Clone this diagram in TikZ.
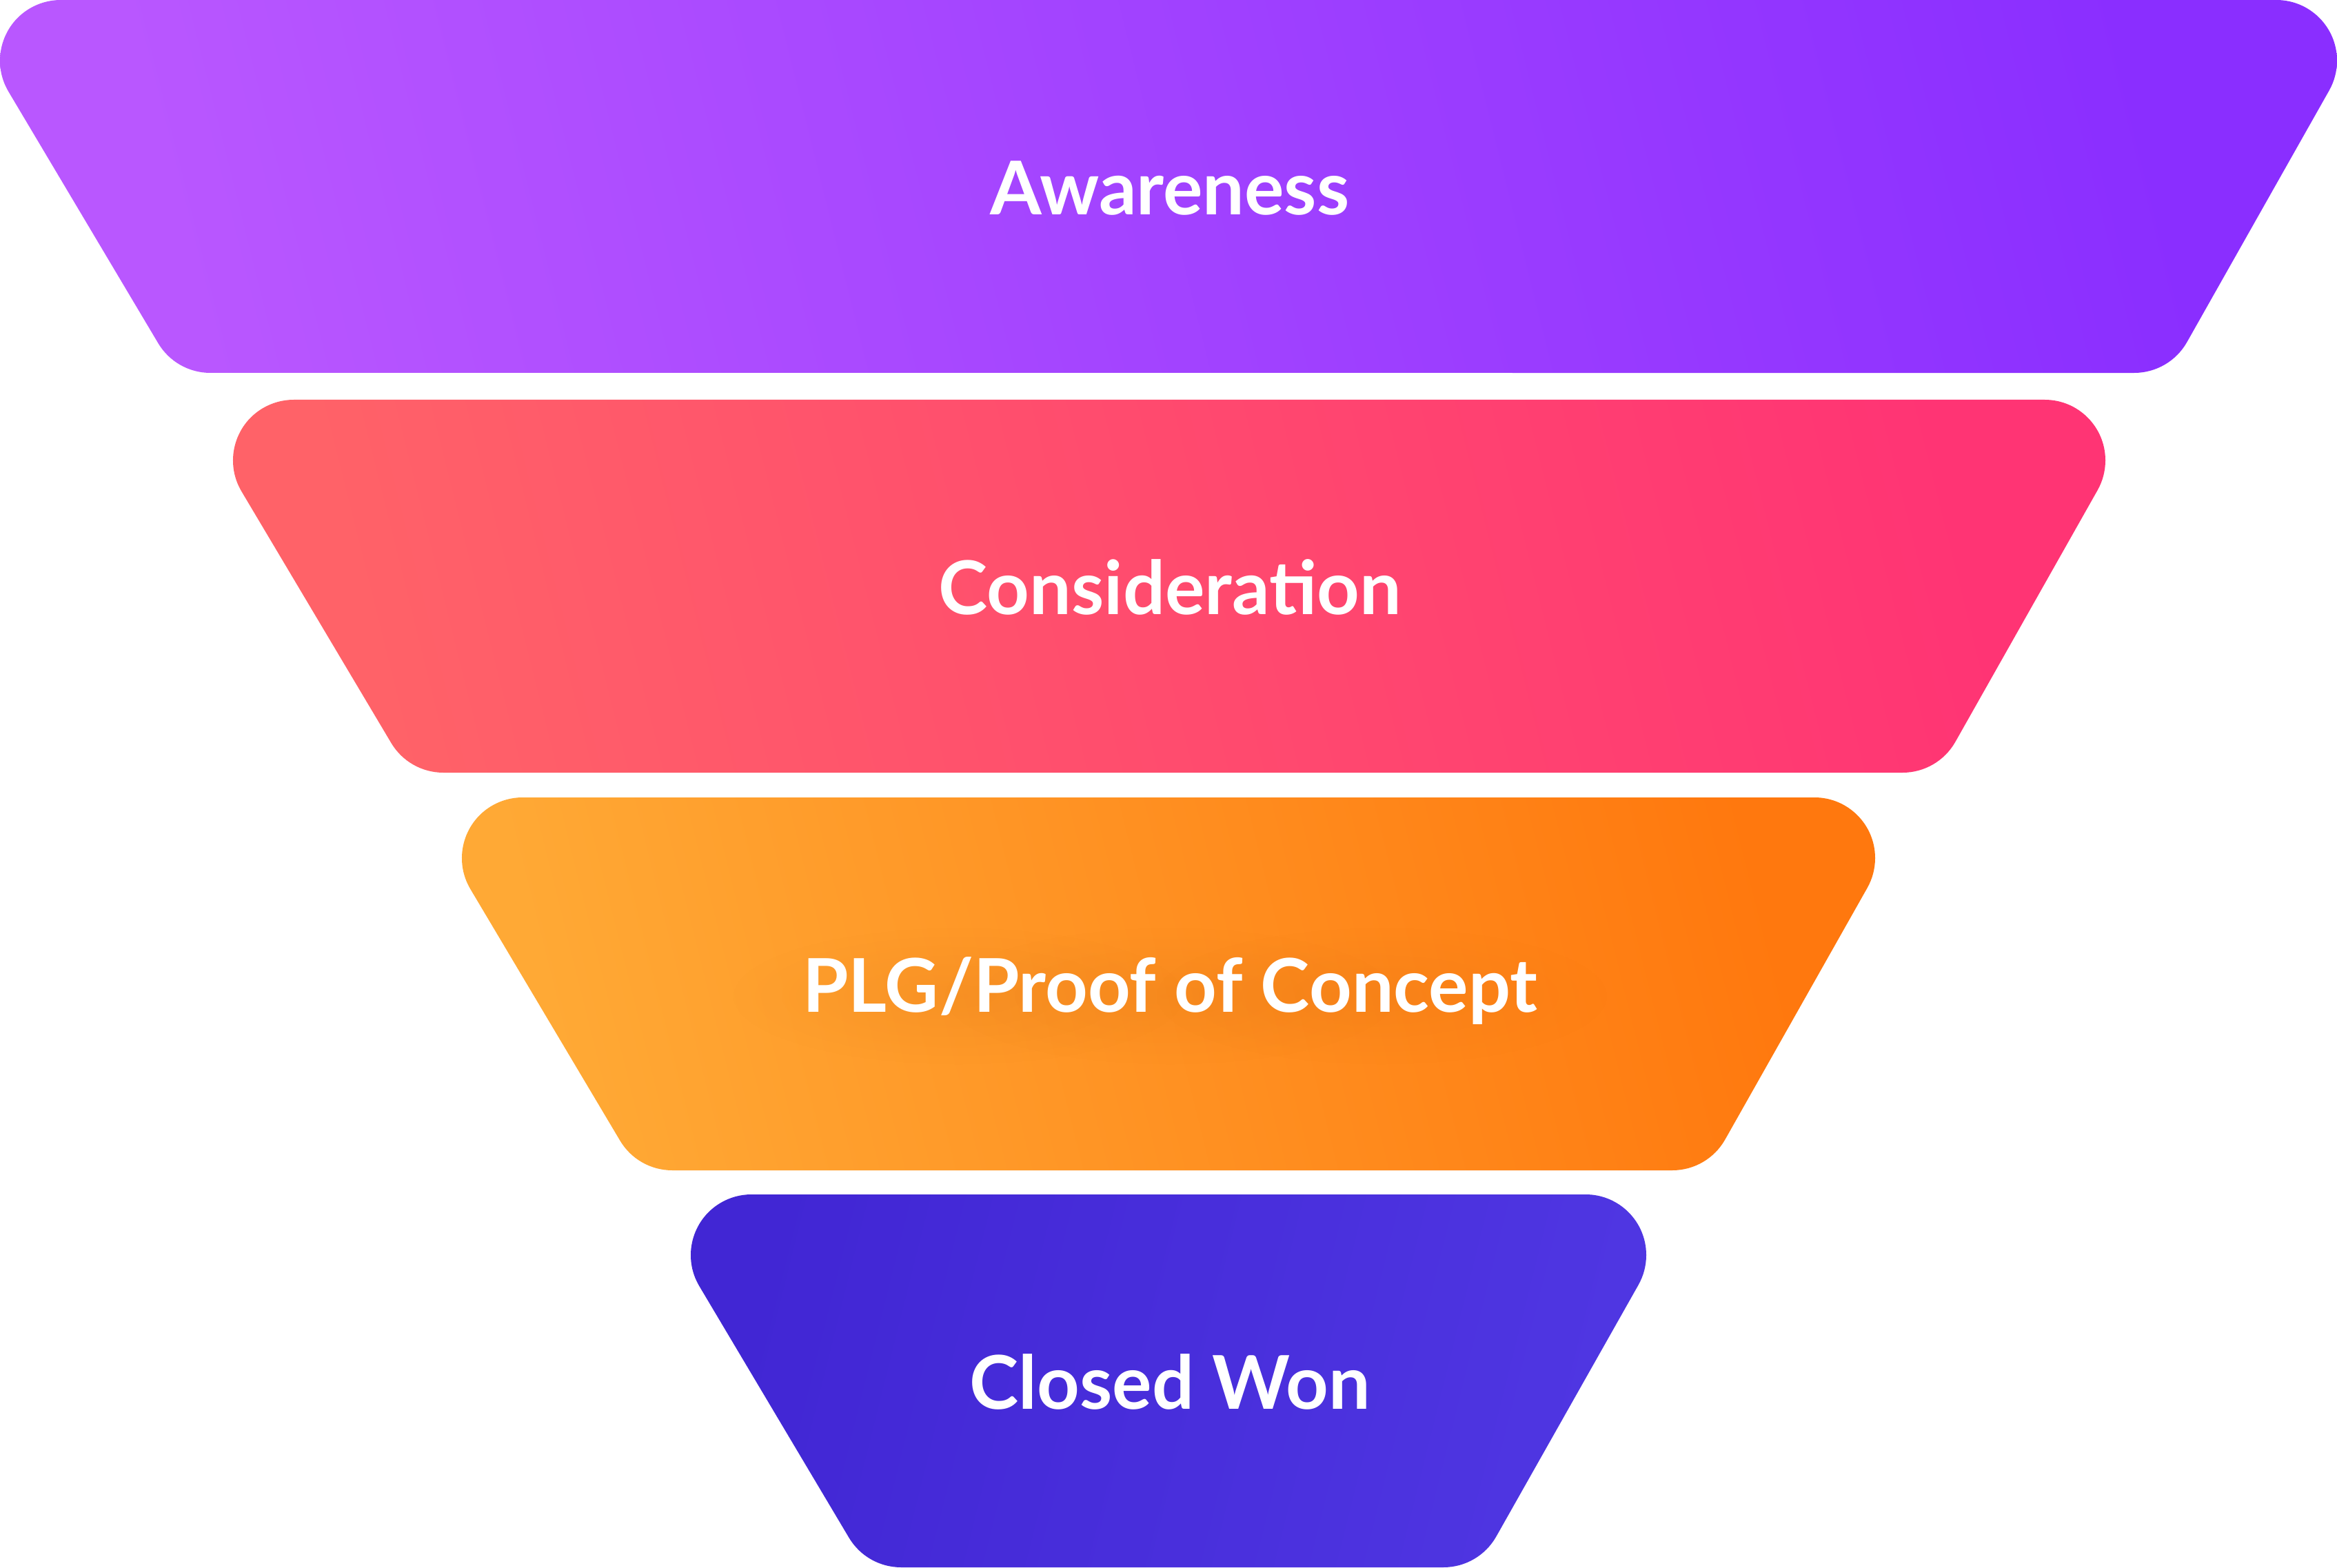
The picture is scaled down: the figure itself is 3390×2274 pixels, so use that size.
\documentclass[tikz,border=0pt]{standalone}
\usepackage{fontspec}
\setmainfont{Lato}
\usetikzlibrary{calc,fadings}

% stage colours (light end, dark end)
\definecolor{awLight}{HTML}{B957FF}
\definecolor{awDark}{HTML}{8A2EFF}
\definecolor{coLight}{HTML}{FF6268}
\definecolor{coDark}{HTML}{FF3474}
\definecolor{poLight}{HTML}{FFA935}
\definecolor{poDark}{HTML}{FF780E}
\definecolor{poHalo}{HTML}{C8600A}
\definecolor{cwDark}{HTML}{4126D4}
\definecolor{cwLight}{HTML}{4F36E2}

% radial fade: solid in the middle, clear at the rim
\tikzfading[name=glowfade, inner color=transparent!0, outer color=transparent!100]

% One funnel stage: a trapezoid with corners of radius 88.
% #1 left extreme x, #2 right extreme x, #3 top edge y, #4 shading options
\newcommand{\funnelstage}[4]{%
  \shade[#4]
    ({#1+88},{#3}) -- ({#2-88},{#3})
    arc[start angle=90, end angle=-29.47, radius=88]
    -- ({#2-217.6},{#3-496.3})
    arc[start angle=-29.47, end angle=-90, radius=88]
    -- ({#1+305.1},{#3-541})
    arc[start angle=-90, end angle=-149.25, radius=88]
    -- ({#1+12.37},{#3-133})
    arc[start angle=-149.25, end angle=-270, radius=88]
    -- cycle;}

\tikzset{
  stagelabel/.style={text=white, anchor=base, inner sep=0pt,
    font=\fontsize{30.6}{36}\selectfont\bfseries},
  glowspot/.style={fill=poHalo, opacity=0.13, path fading=glowfade},
}

\begin{document}
\begin{tikzpicture}[x=0.01cm, y=0.01cm]
  \useasboundingbox (0,0) rectangle (3390,2274);
  \fill[white] (0,0) rectangle (3390,2274);

  \funnelstage{0}{3390}{2274}{left color=awLight, right color=awDark, shading angle=104}
  \funnelstage{338}{3054}{1694}{left color=coLight, right color=coDark, shading angle=104}
  \funnelstage{670}{2720}{1117}{left color=poLight, right color=poDark, shading angle=104}
  \funnelstage{1002}{2388}{541}{left color=cwDark, right color=cwLight, shading angle=76}

  % soft glow behind the orange label
  \foreach \gx in {1390,1697,2004} {
    \fill[glowspot] (\gx, 829) ellipse [x radius=330, y radius=100];
  }

  \node[stagelabel] (awareness)     at (1697, 1962.5) {Awareness};
  \node[stagelabel] (consideration) at (1697, 1382.5) {Consideration};
  \node[stagelabel] (poc)           at (1697, 805.5)  {PLG/Proof of Concept};
  \node[stagelabel] (closedwon)     at (1697, 229.5)  {Closed Won};
\end{tikzpicture}
\end{document}
